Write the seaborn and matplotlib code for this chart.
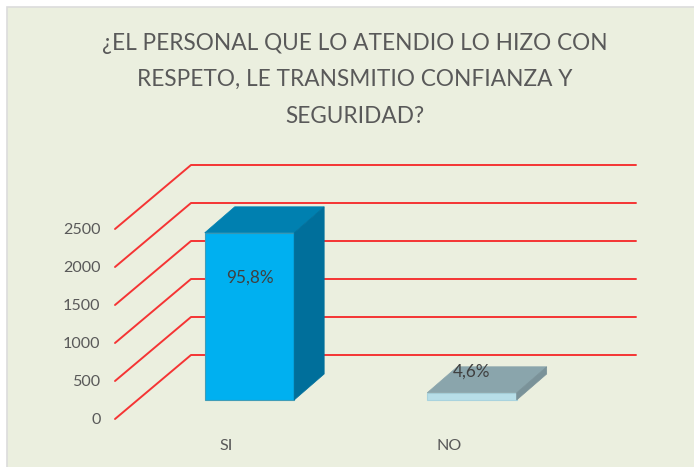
import matplotlib
matplotlib.use('Agg')
import matplotlib.pyplot as plt
from matplotlib.patches import Polygon, Rectangle
import pandas as pd
import seaborn as sns

# datos
categorias = ['SI', 'NO']
valores = [2200, 95]
etiquetas = ['95,8%', '4,6%']
marcas_y = [0, 500, 1000, 1500, 2000, 2500]
titulo = '¿EL PERSONAL QUE LO ATENDIO LO HIZO CON\nRESPETO, LE TRANSMITIO CONFIANZA Y\nSEGURIDAD?'

# colores de cada barra: frente, tapa, lateral
frente = ['#00B0F0', '#B7DEE8']
tapa = ['#0080B0', '#8AA5AC']
lateral = ['#006F9B', '#7A9299']

W, H = 694, 467
FONDO = '#EBEFDF'
TEXTO = '#595959'

sns.set_theme(style='white')
plt.rcParams['font.family'] = ['Lato', 'DejaVu Sans']

fig = plt.figure(figsize=(W / 100, H / 100), dpi=100, facecolor='white')
# el fondo llega hasta el borde derecho e inferior
fig.add_artist(Rectangle((7 / W, -5 / H), (W + 5) / W, (H - 2) / H, transform=fig.transFigure,
                         facecolor=FONDO, edgecolor='#DCDCDC', linewidth=1.2, zorder=-1))

# plano frontal de los ejes, en pixeles de la imagen
ax = fig.add_axes([115 / W, (H - 419) / H, 445 / W, 190 / H])
ax.patch.set_alpha(0)

df = pd.DataFrame({'categoria': categorias, 'valor': valores})
sns.barplot(data=df, x='categoria', y='valor', hue='categoria', palette=frente,
            width=0.402, saturation=1, legend=False, ax=ax, zorder=3)
ax.set_xlim(-0.5, 1.5)
ax.set_ylim(0, 2500)

# pixeles -> unidades de datos
ux = 2.0 / 445
uy = 2500 / 190

# lineas de la pared y el piso
for v in marcas_y:
    ax.plot([-0.5, -0.5 + 76 * ux, 1.5 + 76 * ux], [v, v + 64 * uy, v + 64 * uy],
            color='#F53434', lw=1.4, clip_on=False, zorder=1)

# falso 3D: se corre la barra y se agregan tapa y lateral
dx, dy = 30 * ux, 26 * uy
for i, barra in enumerate(list(ax.patches)):
    barra.set_x(barra.get_x() + 23.2 * ux)
    barra.set_y(19 * uy)
    barra.set_edgecolor('#3F9DB8' if i == 0 else '#A9D3DE')
    barra.set_linewidth(0.8)
    barra.set_clip_on(False)
    x0, x1 = barra.get_x(), barra.get_x() + barra.get_width()
    y0, y1 = barra.get_y(), barra.get_y() + barra.get_height()
    ax.add_patch(Polygon([(x0, y1), (x1, y1), (x1 + dx, y1 + dy), (x0 + dx, y1 + dy)],
                         facecolor=tapa[i], edgecolor=tapa[i], lw=0.5, clip_on=False, zorder=3))
    ax.add_patch(Polygon([(x1, y0), (x1 + dx, y0 + dy), (x1 + dx, y1 + dy), (x1, y1)],
                         facecolor=lateral[i], edgecolor=lateral[i], lw=0.5, clip_on=False, zorder=3))

ax.text(ax.patches[0].get_x() + ax.patches[0].get_width() / 2, 1855, etiquetas[0],
        ha='center', va='center', fontsize=12.3, color='#404040', zorder=5)
ax.text(ax.patches[1].get_x() + ax.patches[1].get_width() / 2, 618, etiquetas[1],
        ha='center', va='center', fontsize=12.3, color='#404040', zorder=5)

ax.set_xlabel('')
ax.set_ylabel('')
ax.set_yticks(marcas_y)
ax.tick_params(axis='both', length=0, labelsize=11.6, labelcolor=TEXTO)
ax.tick_params(axis='x', pad=14.5)
ax.tick_params(axis='y', pad=10.4)
sns.despine(ax=ax, left=True, bottom=True)

fig.text(355 / W, 1 - 33 / H, titulo, ha='center', va='top', fontsize=16.3,
         color=TEXTO, linespacing=1.9)

fig.savefig('out.png', dpi=100, facecolor='white')
